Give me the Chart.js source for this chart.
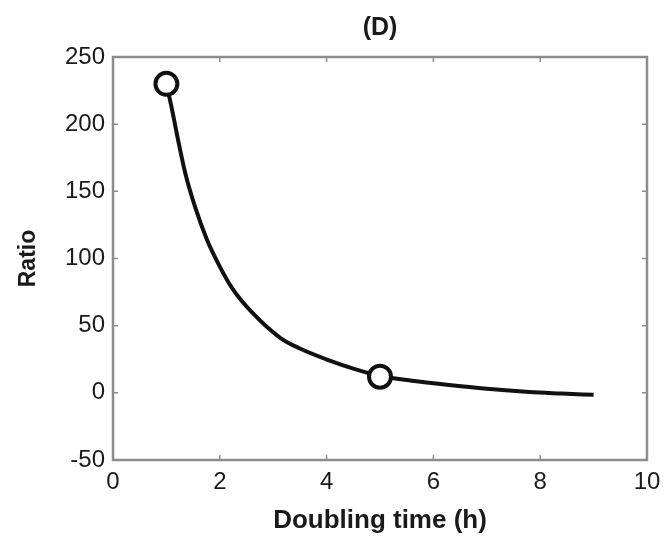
<!DOCTYPE html>
<html lang="en">
<head>
  <meta charset="UTF-8">
  <title>Ratio vs doubling time</title>
  <script src="https://cdn.jsdelivr.net/npm/chart.js"></script>
  <style>
    html, body { margin: 0; padding: 0; background: #fff; }
    #wrap { width: 670px; height: 536px; }
  </style>
</head>
<body>
  <div id="wrap"><canvas id="grafico"></canvas></div>

  <script>
  // curve
  const doublingTime = [1, 1.1, 1.22, 1.35, 1.54, 1.76, 2, 2.23, 2.6, 3.13, 3.5, 4.06, 4.5, 5, 5.6, 6.25, 7, 7.8, 8.4, 9];
  const ratio        = [230, 212, 188, 164, 138, 114, 94, 78, 60, 41, 33, 24, 18, 12.5, 9, 6, 3, 0.6, -0.5, -1.5];

  // measured points (circles)
  const markerX = [1, 5];
  const markerY = [230, 12];

  const xTicks = [0, 2, 4, 6, 8, 10];
  const yTicks = [-50, 0, 50, 100, 150, 200, 250];

  const curve = doublingTime.map((x, i) => ({ x, y: ratio[i] }));
  const markers = markerX.map((x, i) => ({ x, y: markerY[i] }));

  const txt = '#1a1a1a';
  const fam = "'Liberation Sans', Arial, sans-serif";

  // box around the plot + ticks pointing inward
  const boxPlugin = {
    id: 'box',
    beforeDatasetsDraw(chart) {
      const { ctx, chartArea: a, scales } = chart;
      ctx.save();
      ctx.strokeStyle = '#8c8c8c';
      ctx.lineWidth = 2.5;
      ctx.strokeRect(a.left, a.top, a.right - a.left, a.bottom - a.top);
      ctx.lineWidth = 1.5;
      xTicks.forEach(v => {
        const px = scales.x.getPixelForValue(v);
        ctx.beginPath();
        ctx.moveTo(px, a.bottom); ctx.lineTo(px, a.bottom - 5);
        ctx.moveTo(px, a.top); ctx.lineTo(px, a.top + 5);
        ctx.stroke();
      });
      yTicks.forEach(v => {
        const py = scales.y.getPixelForValue(v);
        ctx.beginPath();
        ctx.moveTo(a.left, py); ctx.lineTo(a.left + 5, py);
        ctx.moveTo(a.right, py); ctx.lineTo(a.right - 5, py);
        ctx.stroke();
      });
      ctx.restore();
    }
  };

  new Chart(document.getElementById('grafico'), {
    type: 'scatter',
    data: {
      datasets: [
        {
          data: markers,
          showLine: false,
          pointStyle: 'circle',
          pointRadius: 11,
          pointBorderWidth: 4,
          pointBorderColor: '#111',
          pointBackgroundColor: '#fff',
          order: 0
        },
        {
          data: curve,
          showLine: true,
          borderColor: '#111',
          borderWidth: 4,
          pointRadius: 0,
          tension: 0.4,
          cubicInterpolationMode: 'monotone',
          order: 1
        }
      ]
    },
    options: {
      responsive: true,
      maintainAspectRatio: false,
      animation: false,
      layout: { padding: { top: 0, right: 23, left: 0, bottom: 0 } },
      scales: {
        x: {
          type: 'linear', min: 0, max: 10,
          afterBuildTicks: s => { s.ticks = xTicks.map(v => ({ value: v })); },
          afterFit: s => { s.height = 76; },
          grid: { display: false, drawTicks: false },
          border: { display: false },
          ticks: { color: txt, font: { family: fam, size: 24 }, padding: 8 },
          title: { display: true, text: 'Doubling time (h)', color: txt, font: { family: fam, size: 26, weight: 'bold' }, padding: { top: 0, bottom: 0 } }
        },
        top: {
          type: 'linear', position: 'top', min: 0, max: 10,
          afterFit: s => { s.height = 57; },
          grid: { display: false, drawTicks: false },
          border: { display: false },
          ticks: { display: false },
          title: { display: true, text: '(D)', color: txt, font: { family: fam, size: 25, weight: 'bold' }, padding: { top: 13, bottom: 0 } }
        },
        y: {
          min: -50, max: 250,
          afterBuildTicks: s => { s.ticks = yTicks.map(v => ({ value: v })); },
          afterFit: s => { s.width = 113; },
          grid: { display: false, drawTicks: false },
          border: { display: false },
          ticks: { color: txt, font: { family: fam, size: 24 }, padding: 8 },
          title: { display: true, text: 'Ratio', color: txt, font: { family: fam, size: 23, weight: 'bold' }, padding: { top: 15, bottom: 0 } }
        }
      },
      plugins: {
        legend: { display: false },
        tooltip: { enabled: false }
      }
    },
    plugins: [boxPlugin]
  });
  </script>
</body>
</html>
